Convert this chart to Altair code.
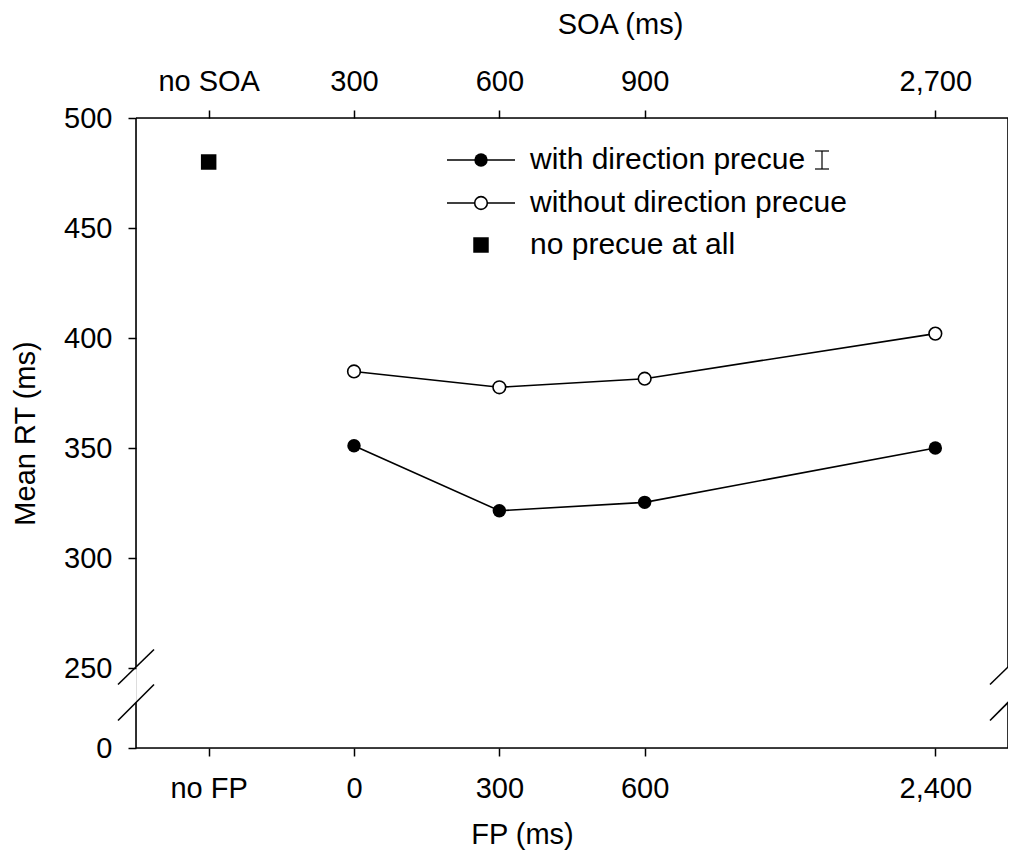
import altair as alt
import pandas as pd

# ---- data ----
fp_labels = ["no FP", "0", "300", "600", "2,400"]
soa_labels = ["no SOA", "300", "600", "900", "2,700"]
x_domain = ["no FP", "0", "300", "600", " ", "2,400"]  # blank slot = wider gap before 2,400

fp_cond = ["0", "300", "600", "2,400"]
with_precue = [351, 321.5, 325.3, 350]
without_precue = [384.8, 377.6, 381.5, 402]
no_precue_fp = ["no FP"]
no_precue = [480]

y_ticks = [0, 250, 300, 350, 400, 450, 500]

legend_labels = ["with direction precue", "without direction precue", "no precue at all"]

FONT = "Liberation Sans"
FS = 29
FS_LEG = 30
W, H = 872, 630

df = pd.DataFrame({
    "fp": fp_cond * 2,
    "rt": with_precue + without_precue,
    "cond": ["with"] * len(fp_cond) + ["without"] * len(fp_cond),
})
df_sq = pd.DataFrame({"fp": no_precue_fp, "rt": no_precue})

xscale = alt.Scale(type="point", domain=x_domain, padding=0.5)
yscale = alt.Scale(domain=[0, 250, 500], range=[H, H - 80, 0], nice=False, zero=False)

common_axis = dict(domain=False, grid=False, tickSize=8, tickColor="black", tickWidth=1.5,
                   labelFont=FONT, labelFontSize=FS, labelColor="black",
                   titleFont=FONT, titleFontSize=FS, titleFontWeight="normal", titleColor="black")

bottom_axis = alt.Axis(orient="bottom", values=fp_labels, title="FP (ms)", labelAngle=0,
                       labelPadding=18, titlePadding=17, titleX=386, **common_axis)

soa_expr = " : ".join(f"datum.value == '{f}' ? '{s}'" for f, s in zip(fp_labels, soa_labels)) + " : ''"
top_axis = alt.Axis(orient="top", values=fp_labels, title="SOA (ms)", labelAngle=0,
                    labelExpr=soa_expr, labelPadding=14, titlePadding=28, titleX=484, **common_axis)

y_axis = alt.Axis(values=y_ticks, title="Mean RT (ms)", labelPadding=16, titlePadding=23,
                  **common_axis)

enc_y = alt.Y("rt:Q", scale=yscale, axis=y_axis)

lines = alt.Chart(df).mark_line(color="black", strokeWidth=1.6).encode(
    x=alt.X("fp:N", scale=xscale, axis=bottom_axis, sort=x_domain),
    y=enc_y,
    detail="cond:N",
)

pts_with = alt.Chart(df).transform_filter("datum.cond == 'with'").mark_point(
    shape="circle", filled=True, color="black", size=180, opacity=1
).encode(
    x=alt.X("fp:N", scale=xscale, axis=None),
    y=enc_y,
)

pts_without = alt.Chart(df).transform_filter("datum.cond == 'without'").mark_point(
    shape="circle", filled=True, fill="white", stroke="black", strokeWidth=1.6, size=160, opacity=1
).encode(
    x=alt.X("fp:N", scale=xscale, axis=None),
    y=enc_y,
)

squares = alt.Chart(df_sq).mark_point(
    shape="square", filled=True, color="black", size=240, opacity=1
).encode(
    x=alt.X("fp:N", scale=xscale, axis=top_axis),
    y=enc_y,
)

# ---- frame with broken y axis ----
one = pd.DataFrame({"k": [0]})
def seg(x, y, x2, y2, sw=1.6):
    return alt.Chart(one).mark_rule(color="black", strokeWidth=sw).encode(
        x=alt.value(x), y=alt.value(y), x2=alt.value(x2), y2=alt.value(y2))

frame = [
    seg(0, 0, W, 0),            # top
    seg(0, H, W, H),            # bottom
    seg(0, 0, 0, H - 81),       # left upper
    seg(0, H - 45.5, 0, H),     # left lower
    seg(W, 0, W, H - 81),       # right upper
    seg(W, H - 45.5, W, H),     # right lower
    seg(-18, H - 63.5, 18, H - 98.5),
    seg(-18, H - 27.5, 18, H - 63.5),
    seg(W - 18, H - 63.5, W + 18, H - 98.5),
    seg(W - 18, H - 27.5, W + 18, H - 63.5),
]

# ---- legend ----
lx0, lx1, lsym, ltext = 311, 379, 345, 394
rows = [42, 85, 127]
legend = [
    seg(lx0, rows[0], lx1, rows[0]),
    seg(lx0, rows[1], lx1, rows[1]),
    alt.Chart(one).mark_point(shape="circle", filled=True, color="black", size=180, opacity=1).encode(
        x=alt.value(lsym), y=alt.value(rows[0])),
    alt.Chart(one).mark_point(shape="circle", filled=True, fill="white", stroke="black",
                              strokeWidth=1.6, size=160, opacity=1).encode(
        x=alt.value(lsym), y=alt.value(rows[1])),
    alt.Chart(one).mark_point(shape="square", filled=True, color="black", size=240, opacity=1).encode(
        x=alt.value(lsym), y=alt.value(rows[2])),
]
for lab, r in zip(legend_labels, rows):
    legend.append(alt.Chart(one).mark_text(align="left", baseline="middle", font=FONT,
                                           fontSize=FS_LEG, color="black").encode(
        x=alt.value(ltext), y=alt.value(r), text=alt.value(lab)))
# error bar glyph next to first legend entry
ex = 686
legend += [
    seg(ex, rows[0] - 9, ex, rows[0] + 9, 1.2),
    seg(ex - 7, rows[0] - 9, ex + 7, rows[0] - 9, 1.2),
    seg(ex - 7, rows[0] + 9, ex + 7, rows[0] + 9, 1.2),
]

chart = alt.layer(lines, pts_without, pts_with, squares, *frame, *legend).resolve_axis(
    x="independent"
).properties(
    width=W, height=H,
    autosize=alt.AutoSizeParams(type="none"),
    padding={"left": 128, "top": 110, "right": 0, "bottom": 106},
).configure_view(stroke=None).configure(background="white")

chart.save("out.html", embed_options={"renderer": "svg", "actions": False})
